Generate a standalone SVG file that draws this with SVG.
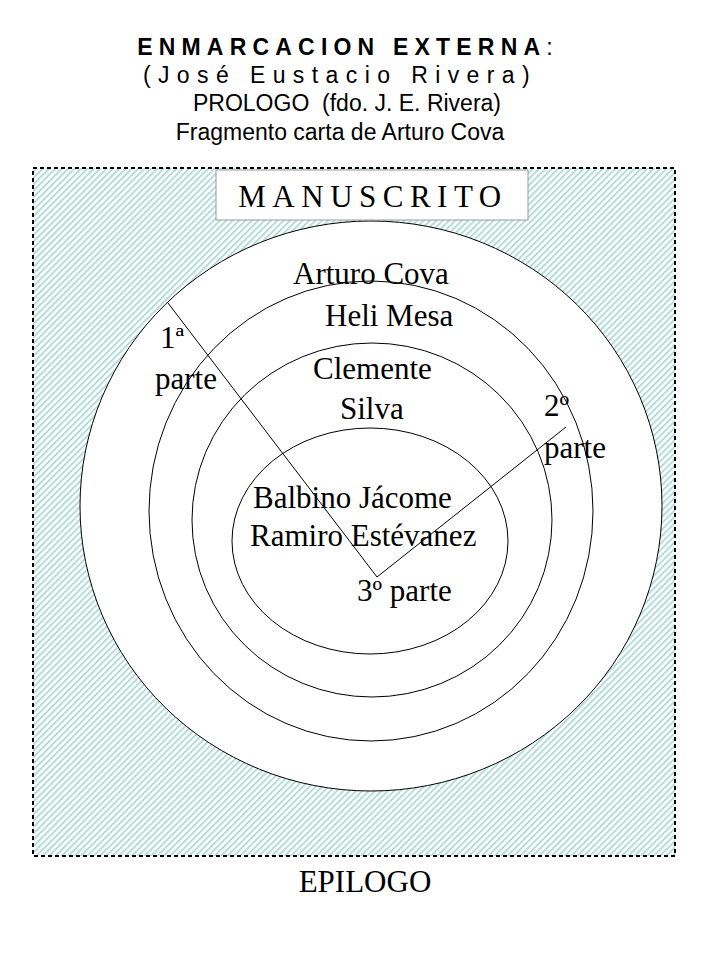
<svg xmlns="http://www.w3.org/2000/svg" width="720" height="960" viewBox="0 0 720 960">
<defs>
<pattern id="hatch" width="4.5" height="4.5" patternUnits="userSpaceOnUse" patternTransform="rotate(45)">
<rect width="4.5" height="4.5" fill="#ffffff"/>
<rect width="2" height="4.5" fill="#b4dcd8"/>
</pattern>
</defs>
<style>
.h{font-family:"Liberation Sans",Arial,sans-serif;font-size:23px;text-anchor:middle;fill:#000}
.t{font-family:"Liberation Serif","Times New Roman",serif;font-size:31px;fill:#000}
.e{fill:#fff;stroke:#000;stroke-width:1}
</style>
<rect width="720" height="960" fill="#fff"/>
<g id="header">
<text class="h" x="348" y="55" font-weight="bold" font-size="20" letter-spacing="6.2">ENMARCACION EXTERNA<tspan font-weight="normal">:</tspan></text>
<text class="h" x="340" y="83" font-size="20" letter-spacing="7.4">(José Eustacio Rivera)</text>
<text class="h" x="347" y="111">PROLOGO&#160; (fdo. J. E. Rivera)</text>
<text class="h" x="340" y="140">Fragmento carta de Arturo Cova</text>
</g>
<g id="frame">
<rect x="33" y="168" width="642" height="688" fill="url(#hatch)" stroke="#000" stroke-width="2" stroke-dasharray="4,3"/>
</g>
<g id="circles">
<ellipse class="e" cx="371" cy="506" rx="291" ry="285"/>
<ellipse class="e" cx="371" cy="511" rx="222" ry="230"/>
<ellipse class="e" cx="372" cy="520" rx="180" ry="177"/>
<ellipse class="e" cx="370" cy="541" rx="138" ry="113"/>
</g>
<g id="manuscrito">
<rect x="216" y="170" width="312" height="50" fill="#fff" stroke="#999" stroke-width="1"/>
<text class="t" x="373" y="207" font-size="30" text-anchor="middle" letter-spacing="6.5">MANUSCRITO</text>
</g>
<g id="connectors">
<polyline points="168,303 377,577 566,427" fill="none" stroke="#000" stroke-width="1"/>
</g>
<g id="labels">
<text class="t" x="293" y="284">Arturo Cova</text>
<text class="t" x="325" y="326">Heli Mesa</text>
<text class="t" x="160" y="348">1ª</text>
<text class="t" x="155" y="389">parte</text>
<text class="t" x="313" y="379">Clemente</text>
<text class="t" x="340" y="419">Silva</text>
<text class="t" x="544" y="416">2º</text>
<text class="t" x="544" y="458">parte</text>
<text class="t" x="253" y="508">Balbino Jácome</text>
<text class="t" x="250" y="546">Ramiro Estévanez</text>
<text class="t" x="357" y="601">3º parte</text>
<text class="t" x="365" y="892" font-size="18.5" text-anchor="middle">EPILOGO</text>
</g>
</svg>
